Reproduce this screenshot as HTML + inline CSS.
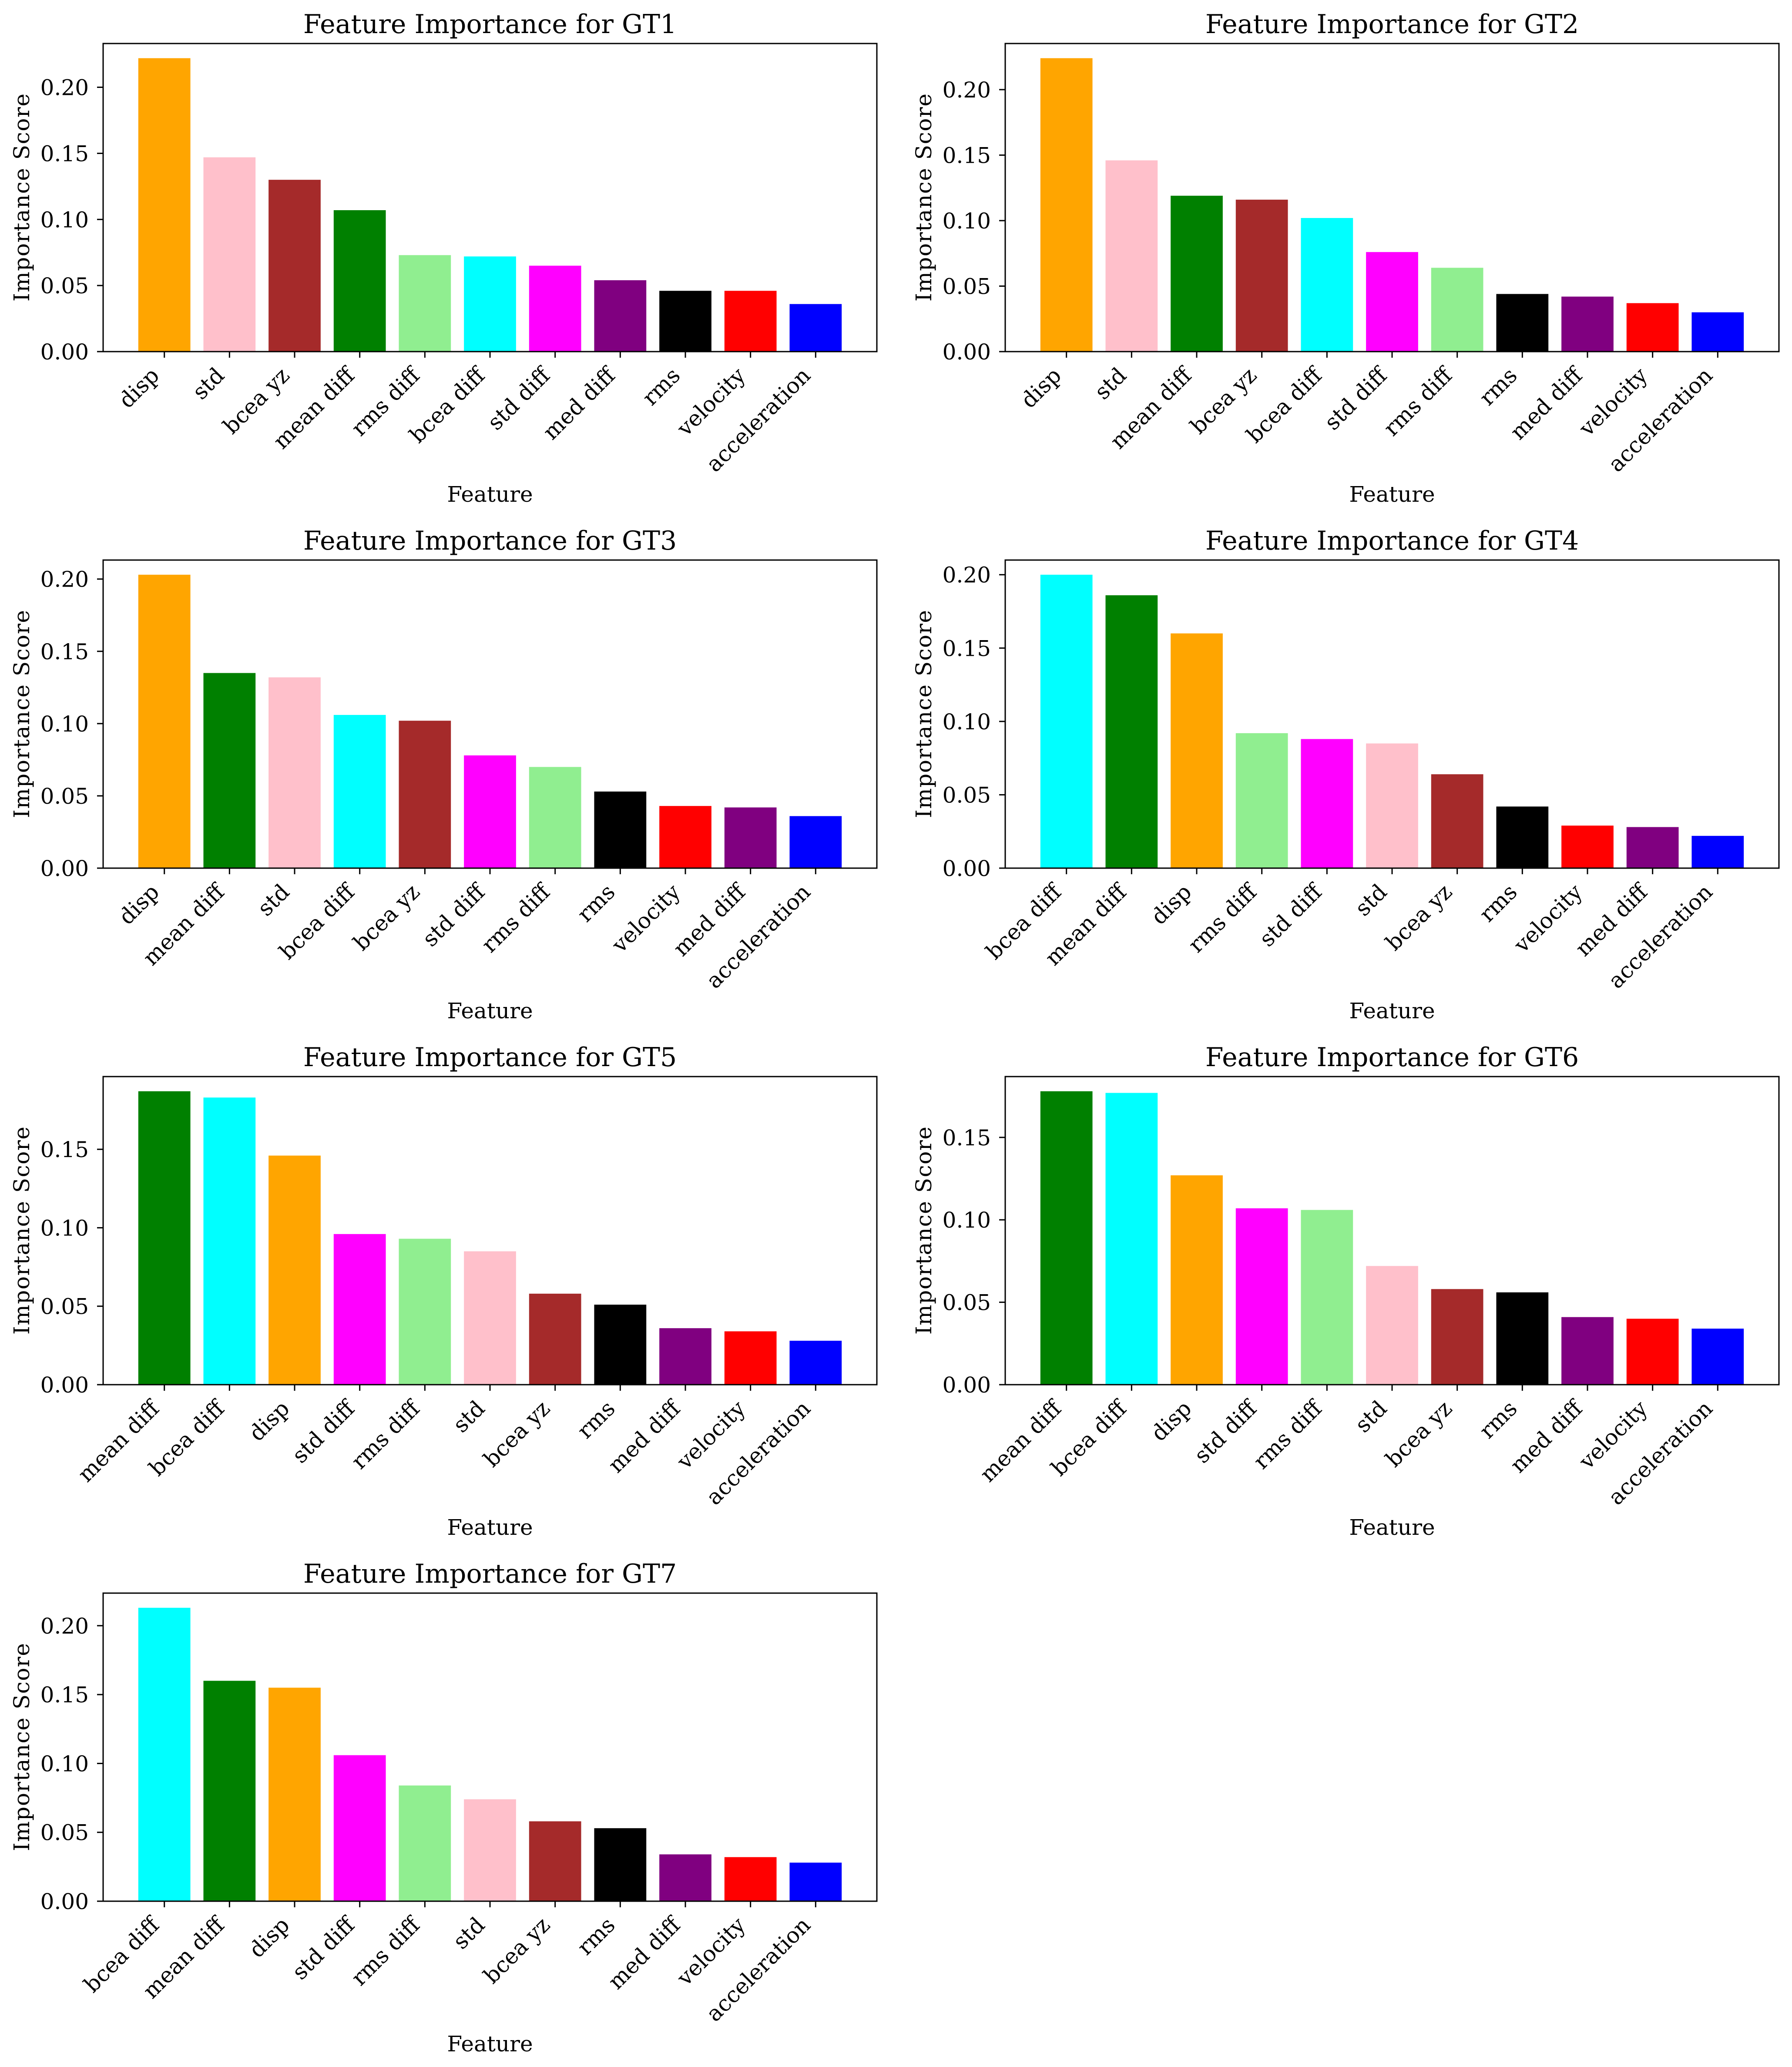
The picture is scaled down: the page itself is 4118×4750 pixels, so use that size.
<!DOCTYPE html>
<html><head><meta charset="utf-8"><style>
html,body{margin:0;padding:0;background:#fff;}
svg{display:block;font-family:"DejaVu Serif","Liberation Serif",serif;}
</style></head>
<body>
<svg id="fig" width="4118" height="4750" viewBox="0 0 4118 4750" xmlns="http://www.w3.org/2000/svg">
<rect width="4118" height="4750" fill="#fff"/>
</svg>
<script>
const titles = ["GT1","GT2","GT3","GT4","GT5","GT6","GT7"];
const feats1 = ["disp","std","bcea yz","mean diff","rms diff","bcea diff","std diff","med diff","rms","velocity","acceleration"];
const vals1  = [0.222,0.147,0.130,0.107,0.073,0.072,0.065,0.054,0.046,0.046,0.036];
const feats2 = ["disp","std","mean diff","bcea yz","bcea diff","std diff","rms diff","rms","med diff","velocity","acceleration"];
const vals2  = [0.224,0.146,0.119,0.116,0.102,0.076,0.064,0.044,0.042,0.037,0.030];
const feats3 = ["disp","mean diff","std","bcea diff","bcea yz","std diff","rms diff","rms","velocity","med diff","acceleration"];
const vals3  = [0.203,0.135,0.132,0.106,0.102,0.078,0.070,0.053,0.043,0.042,0.036];
const feats4 = ["bcea diff","mean diff","disp","rms diff","std diff","std","bcea yz","rms","velocity","med diff","acceleration"];
const vals4  = [0.200,0.186,0.160,0.092,0.088,0.085,0.064,0.042,0.029,0.028,0.022];
const feats5 = ["mean diff","bcea diff","disp","std diff","rms diff","std","bcea yz","rms","med diff","velocity","acceleration"];
const vals5  = [0.187,0.183,0.146,0.096,0.093,0.085,0.058,0.051,0.036,0.034,0.028];
const feats6 = ["mean diff","bcea diff","disp","std diff","rms diff","std","bcea yz","rms","med diff","velocity","acceleration"];
const vals6  = [0.178,0.177,0.127,0.107,0.106,0.072,0.058,0.056,0.041,0.040,0.034];
const feats7 = ["bcea diff","mean diff","disp","std diff","rms diff","std","bcea yz","rms","med diff","velocity","acceleration"];
const vals7  = [0.213,0.160,0.155,0.106,0.084,0.074,0.058,0.053,0.034,0.032,0.028];
const featureColors = {"disp":"#ffa500","std":"#ffc0cb","bcea yz":"#a52a2a","mean diff":"#008000","rms diff":"#90ee90","bcea diff":"#00ffff","std diff":"#ff00ff","med diff":"#800080","rms":"#000000","velocity":"#ff0000","acceleration":"#0000ff"};
const allFeats = [feats1,feats2,feats3,feats4,feats5,feats6,feats7];
const allVals = [vals1,vals2,vals3,vals4,vals5,vals6,vals7];

const NS = "http://www.w3.org/2000/svg";
const svg = document.getElementById("fig");
function mk(tag, attrs, parent){
  const e = document.createElementNS(NS, tag);
  for (const k in attrs) e.setAttribute(k, attrs[k]);
  parent.appendChild(e);
  return e;
}
const colX = [237, 2310], AW = 1778, rowTop = [100, 1287, 2474, 3661], AH = 708;

for (let p = 0; p < 7; p++) {
  const feats = allFeats[p], vals = allVals[p];
  const x0 = colX[p % 2], top = rowTop[Math.floor(p / 2)], bot = top + AH;
  const g = mk("g", {}, svg);
  
  
  const n = feats.length;
  const xmin = -0.4 - 0.05 * (n - 0.2), xmax = n - 1 + 0.4 + 0.05 * (n - 0.2);
  const xs = v => x0 + (v - xmin) / (xmax - xmin) * AW;
  const ymax = Math.max(...vals) * 1.05;
  const ys = v => bot - v / ymax * AH;
  for (let i = 0; i < n; i++) {
    const r = mk("rect", {x: xs(i - 0.4), y: ys(vals[i]), width: xs(i + 0.4) - xs(i - 0.4), height: bot - ys(vals[i]), fill: featureColors[feats[i]]}, g);
    
    
  }
  for (let t = 0; t <= ymax + 1e-9; t += 0.05) {
    const y = ys(t);
    mk("line", {x1: x0 - 14, x2: x0, y1: y, y2: y, stroke: "#000", "stroke-width": 3}, g);
    const tx = mk("text", {x: x0 - 33, y: y + 18, "font-size": 50, "text-anchor": "end", fill: "#000"}, g);
    tx.textContent = t.toFixed(2);
    
    
  }
  for (let i = 0; i < n; i++) {
    const x = xs(i);
    mk("line", {x1: x, x2: x, y1: bot, y2: bot + 14, stroke: "#000", "stroke-width": 3}, g);
    const px = x - 9, py = bot + 58;
    const tx = mk("text", {x: px, y: py, "font-size": 50, "text-anchor": "end", fill: "#000", transform: "rotate(-45 " + px + " " + py + ")"}, g);
    tx.textContent = feats[i];
    
    
  }
  const fr = mk("rect", {x: x0, y: top, width: AW, height: AH, fill: "none", stroke: "#000", "stroke-width": 3}, g);
  
  
  const ti = mk("text", {x: x0 + AW / 2, y: top - 24, "font-size": 60, "text-anchor": "middle", fill: "#000"}, g);
  ti.textContent = "Feature Importance for " + titles[p];
  
  
  const xl = mk("text", {x: x0 + AW / 2, y: bot + 345, "font-size": 50, "text-anchor": "middle", fill: "#000"}, g);
  xl.textContent = "Feature";
  
  
  const lx = x0 - 170, ly = top + AH / 2;
  const yl = mk("text", {x: lx, y: ly, "font-size": 50, "text-anchor": "middle", fill: "#000", textLength: 478, lengthAdjust: "spacing", transform: "rotate(-90 " + lx + " " + ly + ")"}, g);
  yl.textContent = "Importance Score";
  
  
}
</script>
</body></html>
